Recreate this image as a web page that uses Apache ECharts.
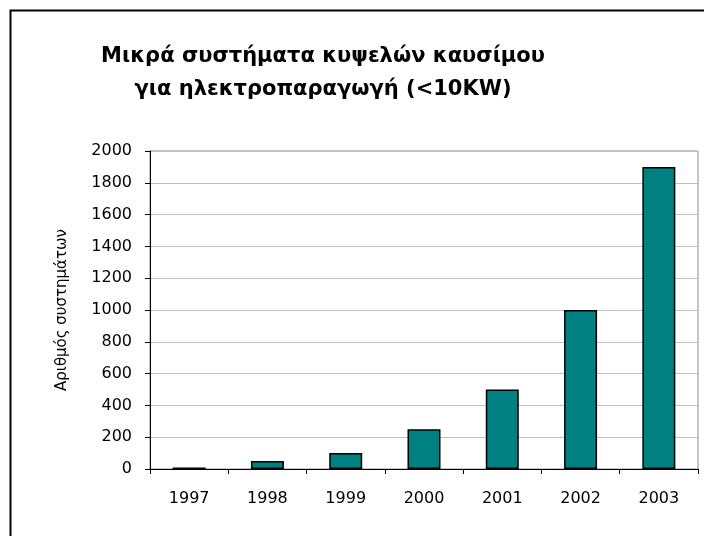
<!DOCTYPE html>
<html>
<head>
<meta charset="utf-8">
<script src="https://cdn.jsdelivr.net/npm/echarts@6/dist/echarts.min.js"></script>
<style>
html, body { margin: 0; padding: 0; background: #fff; }
#plot { width: 704px; height: 536px; }
</style>
</head>
<body>
<div id="plot"></div>
<script>
var years = ['1997', '1998', '1999', '2000', '2001', '2002', '2003'];
var systems = [10, 50, 100, 250, 500, 1000, 1900];
var titleLines = ['Μικρά συστήματα κυψελών καυσίμου', 'για ηλεκτροπαραγωγή (<10KW)'];
var yName = 'Αριθμός συστημάτων';

var font = 'Verdana, "DejaVu Sans", sans-serif';

var option = {
	animation: false,
	backgroundColor: '#ffffff',
	title: {
		text: titleLines.join('\n'),
		left: 318,
		top: 35,
		textAlign: 'center',
		textStyle: {
			fontFamily: font,
			fontWeight: 'bold',
			fontSize: 21,
			lineHeight: 33,
			color: '#000'
		}
	},
	graphic: [
		{
			type: 'rect',
			left: 8,
			top: 8,
			shape: { width: 760, height: 600 },
			style: { fill: 'none', stroke: '#000', lineWidth: 2 },
			silent: true
		}
	],
	grid: {
		left: 150,
		right: 6,
		top: 151,
		bottom: 67,
		show: true,
		borderColor: '#8c8c8c',
		borderWidth: 1
	},
	xAxis: {
		type: 'category',
		data: years,
		axisLine: { lineStyle: { color: '#000', width: 1 } },
		axisTick: { show: true, length: 5, lineStyle: { color: '#000' } },
		axisLabel: { margin: 22, fontFamily: font, fontSize: 16, color: '#000' }
	},
	yAxis: {
		type: 'value',
		min: 0,
		max: 2000,
		interval: 200,
		name: yName,
		nameLocation: 'middle',
		nameGap: 80,
		nameTextStyle: { fontFamily: font, fontSize: 15, color: '#000' },
		axisLine: { show: true, lineStyle: { color: '#000', width: 1 } },
		axisTick: { show: true, length: 5, lineStyle: { color: '#000' } },
		axisLabel: {
			margin: 18,
			fontFamily: font,
			fontSize: 16,
			color: '#000',
			formatter: function (v) { return String(v); }
		},
		splitLine: { lineStyle: { color: '#c0c0c0', width: 1 } }
	},
	series: [
		{
			type: 'bar',
			data: systems,
			barWidth: 33,
			itemStyle: {
				color: '#008080',
				borderColor: '#000',
				borderWidth: 1.5
			}
		}
	]
};

var myChart = echarts.init(document.getElementById('plot'));
myChart.setOption(option);
</script>
</body>
</html>
